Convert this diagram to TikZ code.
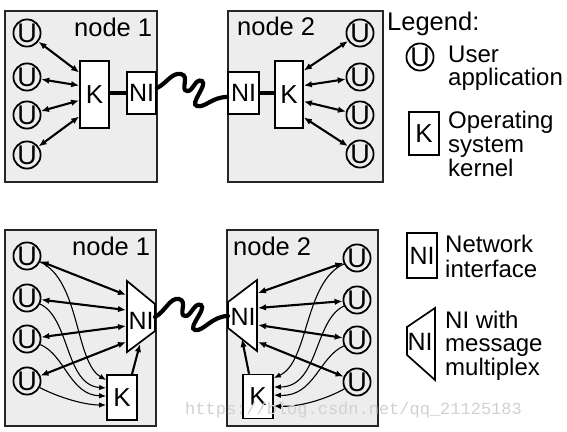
\documentclass[tikz,border=0pt]{standalone}
\usepackage{fontspec}
\setmainfont{Liberation Sans}
\newfontfamily\wmfont{Liberation Mono}
\usetikzlibrary{arrows.meta}
\begin{document}
\begin{tikzpicture}[x=1pt,y=-1pt,
  frame/.style={draw=black!85, line width=2.6pt, fill=black!7},
  ucirc/.style={circle, draw, line width=1.8pt, minimum size=26pt, inner sep=0pt, font=\fontsize{27}{27}\selectfont},
  kbox/.style={rectangle, draw, line width=1.7pt, fill=white, inner sep=0pt, font=\fontsize{26}{26}\selectfont},
  txt/.style={inner sep=0pt, font=\fontsize{25}{25}\selectfont},
  lbl/.style={anchor=base west, inner sep=0pt, font=\fontsize{24}{24}\selectfont},
  ttl/.style={anchor=base west, inner sep=0pt, font=\fontsize{25.5}{25.5}\selectfont},
  trap/.style={draw, line width=1.7pt, fill=white, line join=miter},
  dbl/.style={{Latex[length=8pt,width=6.5pt]}-{Latex[length=8pt,width=6.5pt]}, line width=2.1pt},
  onearr/.style={-{Latex[length=8pt,width=6.5pt]}, line width=2.1pt},
  thinarr/.style={-{Latex[length=7pt,width=5.5pt]}, line width=1.1pt},
  link/.style={line width=4.2pt},
  wave/.style={line width=4.2pt, line cap=round}
]
\useasboundingbox (0,0) rectangle (567,431);

% ---------- frames ----------
\draw[frame] (5,11) rectangle (157,182);
\draw[frame] (228,11) rectangle (383,182);
\draw[frame] (5,230) rectangle (156,426);
\draw[frame] (227,230) rectangle (378,426);

\node[ttl] (t1) at (74,36) {node 1};
\node[ttl] (t2) at (237,35) {node 2};
\node[ttl] (b1) at (72,255) {node 1};
\node[ttl] (b2) at (233,255) {node 2};

% ---------- top node 1 ----------
\node[ucirc] (tu1) at (27,33) {U};
\node[ucirc] (tu2) at (27,77) {U};
\node[ucirc] (tu3) at (27,115) {U};
\node[ucirc] (tu4) at (27,155) {U};
\node[kbox, minimum width=29pt, minimum height=67pt] (tk1) at (94.5,94.5) {K};
\node[kbox, minimum width=29pt, minimum height=42pt, font=\fontsize{25}{25}\selectfont] (tni1) at (141.5,93) {NI};
\draw[link] (tk1.east |- 0,93) -- (tni1.west);
\draw[dbl] (tu1) -- ([yshift=22pt]tk1.west);
\draw[dbl] (tu2) -- ([yshift=9pt]tk1.west);
\draw[dbl] (tu3) -- ([yshift=-6pt]tk1.west);
\draw[dbl] (tu4) -- ([yshift=-22pt]tk1.west);

% ---------- top node 2 ----------
\node[ucirc] (tv1) at (360,33) {U};
\node[ucirc] (tv2) at (360,77) {U};
\node[ucirc] (tv3) at (360,115) {U};
\node[ucirc] (tv4) at (360,154) {U};
\node[kbox, minimum width=28pt, minimum height=67pt] (tk2) at (289,94.5) {K};
\node[kbox, minimum width=31pt, minimum height=42pt, font=\fontsize{25}{25}\selectfont] (tni2) at (243.5,93) {NI};
\draw[link] (tni2.east) -- (tk2.west |- 0,93);
\draw[dbl] (tv1) -- ([yshift=24pt]tk2.east);
\draw[dbl] (tv2) -- ([yshift=9pt]tk2.east);
\draw[dbl] (tv3) -- ([yshift=-7pt]tk2.east);
\draw[dbl] (tv4) -- ([yshift=-23pt]tk2.east);

% top wave
\draw[wave] ([yshift=5pt]tni1.east) .. controls (166,84) and (172,72) .. (181,74)
  .. controls (190,76) and (180,90) .. (187,91)
  .. controls (193,92) and (195,78) .. (202,81)
  .. controls (208,85) and (189,104) .. (197,106)
  .. controls (205,108) and (212,97) .. ([yshift=-4pt]tni2.west);

% ---------- bottom node 1 ----------
\node[ucirc] (bu1) at (27,256) {U};
\node[ucirc] (bu2) at (27,298) {U};
\node[ucirc] (bu3) at (27,339) {U};
\node[ucirc] (bu4) at (27,381) {U};
\draw[trap] (127,281) -- (155,304) -- (155,331) -- (127,352) -- cycle;
\node[txt] (bni1) at (141,321) {NI};
\coordinate (n1a) at (126,295);
\coordinate (n1b) at (126,310);
\coordinate (n1c) at (126,326);
\coordinate (n1d) at (126,342);
\coordinate (n1k) at (140,344);
\coordinate (n1r) at (155,317);
\node[kbox, minimum width=30pt, minimum height=45pt] (bk1) at (122,397.5) {K};
\draw[dbl] (bu1) -- (n1a);
\draw[dbl] (bu2) -- (n1b);
\draw[dbl] (bu3) -- (n1c);
\draw[dbl] (bu4) -- (n1d);
\draw[onearr] ([xshift=10pt]bk1.north) -- (n1k);
\draw[thinarr] (bu1) .. controls (80,280) and (75,362) .. ([yshift=17.5pt]bk1.west);
\draw[thinarr] (bu2) .. controls (70,318) and (65,385) .. ([yshift=9.5pt]bk1.west);
\draw[thinarr] (bu3) .. controls (65,355) and (70,395) .. ([yshift=1.5pt]bk1.west);
\draw[thinarr] (bu4) .. controls (60,398) and (85,405) .. ([yshift=-7.5pt]bk1.west);

% ---------- bottom node 2 ----------
\node[ucirc] (bv1) at (357,258) {U};
\node[ucirc] (bv2) at (357,300) {U};
\node[ucirc] (bv3) at (357,340) {U};
\node[ucirc] (bv4) at (357,382) {U};
\draw[trap] (228,302) -- (257,280) -- (257,351) -- (228,328) -- cycle;
\node[txt] (bni2) at (243,317) {NI};
\coordinate (n2a) at (258,293);
\coordinate (n2b) at (258,308);
\coordinate (n2c) at (258,325);
\coordinate (n2d) at (258,342);
\coordinate (n2k) at (242,339);
\coordinate (n2l) at (228,316);
\node[kbox, minimum width=30pt, minimum height=44pt] (bk2) at (258,396.5) {K};
\draw[dbl] (bv1) -- (n2a);
\draw[dbl] (bv2) -- (n2b);
\draw[dbl] (bv3) -- (n2c);
\draw[dbl] (bv4) -- (n2d);
\draw[onearr] ([xshift=-9pt]bk2.north) -- (n2k);
\draw[thinarr] (bv1) .. controls (304,282) and (309,362) .. ([yshift=18.5pt]bk2.east);
\draw[thinarr] (bv2) .. controls (314,320) and (319,387) .. ([yshift=9.5pt]bk2.east);
\draw[thinarr] (bv3) .. controls (319,357) and (314,397) .. ([yshift=1.5pt]bk2.east);
\draw[thinarr] (bv4) .. controls (324,400) and (299,407) .. ([yshift=-9.5pt]bk2.east);

% bottom wave
\draw[wave] (n1r) .. controls (165,312) and (170,297) .. (179,299)
  .. controls (188,301) and (178,315) .. (185,316)
  .. controls (191,317) and (194,302) .. (201,305)
  .. controls (207,309) and (187,328) .. (195,330)
  .. controls (203,332) and (212,316) .. (n2l);

% ---------- legend ----------
\node[ttl] (lg) at (387,30) {Legend:};
\node[ucirc] (lu) at (420,57) {U};
\node[lbl] (lu1) at (448,62) {User};
\node[lbl] (lu2) at (448,85) {application};
\node[kbox, minimum width=30pt, minimum height=43pt] (lk) at (424,133.5) {K};
\node[lbl] (lk1) at (448,128) {Operating};
\node[lbl] (lk2) at (448,152) {system};
\node[lbl] (lk3) at (448,176) {kernel};
\node[kbox, minimum width=30pt, minimum height=45pt, font=\fontsize{25}{25}\selectfont] (lni) at (422,255.5) {NI};
\node[lbl] (ln1) at (445,252) {Network};
\node[lbl] (ln2) at (445,277) {interface};
\draw[trap] (407,327) -- (435,308) -- (435,380) -- (407,355) -- cycle;
\node[txt] (lni2) at (420,342) {NI};
\node[lbl] (lm1) at (445,328) {NI with};
\node[lbl] (lm2) at (445,351) {message};
\node[lbl] (lm3) at (445,375) {multiplex};

% watermark
\node[anchor=base west, inner sep=0pt, text=black!18, font=\wmfont\fontsize{17}{17}\selectfont] (wm) at (185,414) {https://blog.csdn.net/qq\_21125183};
\end{tikzpicture}
\end{document}
